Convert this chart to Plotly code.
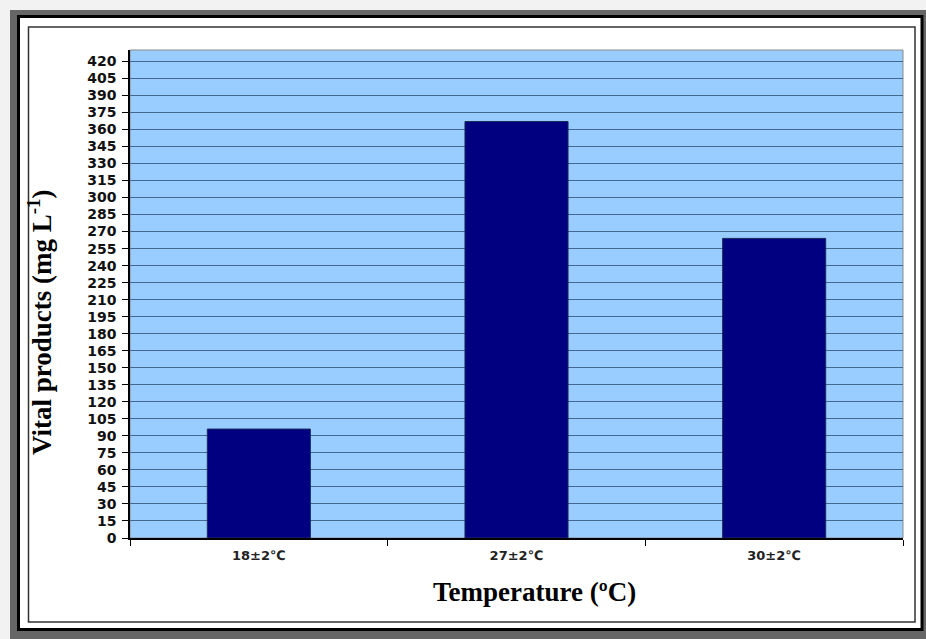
import plotly.graph_objects as go

categories = ["18±2℃", "27±2℃", "30±2℃"]
values = [96, 367, 264]
y_ticks = list(range(0, 421, 15))

W, H = 926, 639
L, R, T, B = 130, 903, 50, 538  # plot area in window pixels


def px(x):
    return (x - L) / (R - L)


def py(y):
    return (B - y) / (B - T)


fig = go.Figure()
fig.add_trace(go.Bar(
    x=categories, y=values,
    marker=dict(color="#000080", line=dict(color="#1a2a5a", width=1)),
    width=0.4,
))

shapes = [
    dict(type="rect", xref="paper", yref="paper", x0=px(10), x1=px(940), y0=py(660), y1=py(10),
         fillcolor="#666666", line=dict(width=0), layer="below"),
    dict(type="rect", xref="paper", yref="paper", x0=px(18.5), x1=px(922), y0=py(629.5), y1=py(16.5),
         fillcolor="white", line=dict(color="black", width=3), layer="below"),
    dict(type="rect", xref="paper", yref="paper", x0=px(28.5), x1=px(915), y0=py(622), y1=py(27),
         fillcolor="rgba(0,0,0,0)", line=dict(color="#333333", width=1.5), layer="below"),
    dict(type="rect", xref="paper", yref="paper", x0=0, x1=1, y0=0, y1=1,
         fillcolor="#99ccff", line=dict(color="#8a8a8a", width=1), layer="below"),
]

annotations = [
    dict(text="<b>Temperature (ºC)</b>", xref="paper", yref="paper", x=px(534), y=py(592),
         showarrow=False, font=dict(family="Liberation Serif", size=27, color="black"),
         xanchor="center", yanchor="middle"),
    dict(text="<b>Vital products (mg L<sup>-1</sup>)</b>", xref="paper", yref="paper",
         x=px(40), y=py(322), textangle=-90, showarrow=False,
         font=dict(family="Liberation Serif", size=27, color="black"),
         xanchor="center", yanchor="middle"),
]

fig.update_layout(
    width=W, height=H,
    margin=dict(l=L, r=W - R, t=T, b=H - B, pad=0),
    paper_bgcolor="#f2f2f2",
    plot_bgcolor="#99ccff",
    showlegend=False,
    shapes=shapes,
    annotations=annotations,
    bargap=0.6,
)

fig.update_yaxes(
    range=[0, 430], tickvals=y_ticks, ticktext=[str(v) for v in y_ticks],
    showgrid=True, gridcolor="#44678f", gridwidth=1.2,
    showline=True, linecolor="black", linewidth=1.5,
    ticks="outside", ticklen=6, tickcolor="black", tickwidth=1.2,
    ticklabelstandoff=3,
    tickfont=dict(family="DejaVu Sans", size=14, color="#111111", weight="bold"),
    zeroline=False, fixedrange=True,
)
fig.update_xaxes(
    tickson="boundaries", ticks="outside", ticklen=6, tickcolor="black", tickwidth=1.2,
    showline=True, linecolor="black", linewidth=1.5,
    ticklabelstandoff=5,
    tickfont=dict(family="DejaVu Sans", size=13, color="#222222", weight="bold"),
    showgrid=False, fixedrange=True,
)

fig.write_html(
    "out.html",
    config={"displayModeBar": False},
    post_script="document.body.style.margin='0';document.body.style.overflow='hidden';",
)
